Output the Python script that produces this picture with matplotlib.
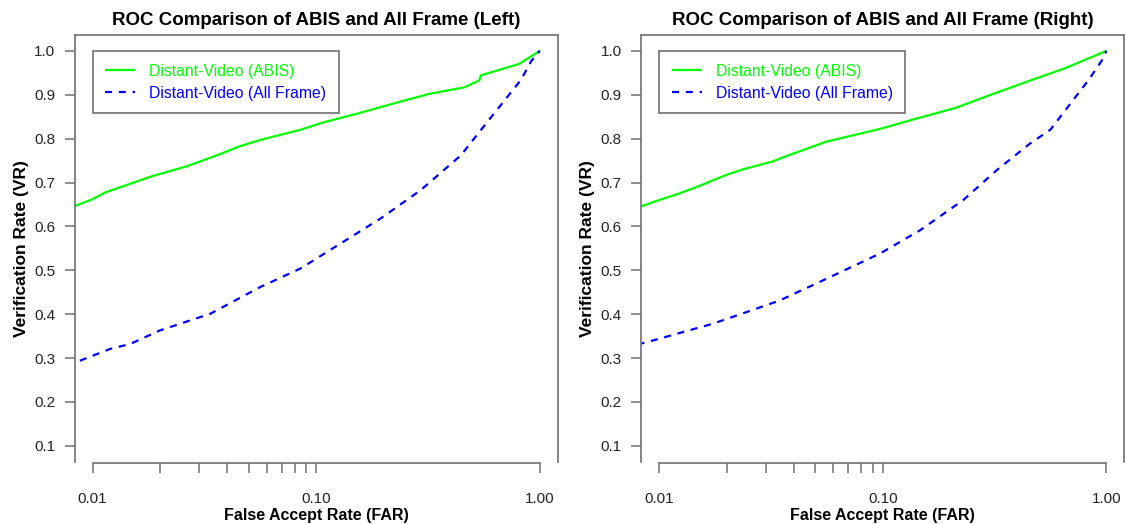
import matplotlib
matplotlib.use("Agg")
import matplotlib.pyplot as plt

plt.rcParams['font.family'] = ['Liberation Sans', 'DejaVu Sans']

# ---- data (FAR, VR) ----
left_abis_far = [0.0080, 0.0100, 0.01135, 0.0147, 0.0181, 0.0264, 0.036, 0.0458, 0.0563, 0.085,
                 0.106, 0.153, 0.222, 0.321, 0.462, 0.537, 0.545, 0.807, 1.0]
left_abis_vr = [0.643, 0.662, 0.677, 0.697, 0.713, 0.737, 0.762, 0.783, 0.797, 0.820,
                0.836, 0.857, 0.880, 0.902, 0.917, 0.933, 0.944, 0.970, 1.0]
left_all_far = [0.00877, 0.0120, 0.0147, 0.020, 0.0336, 0.0563, 0.085, 0.1285, 0.194, 0.294,
                0.444, 0.546, 0.824, 0.914, 1.0]
left_all_vr = [0.294, 0.321, 0.332, 0.363, 0.401, 0.462, 0.504, 0.561, 0.618, 0.683,
               0.762, 0.820, 0.934, 0.976, 1.0]

right_abis_far = [0.0080, 0.0100, 0.0123, 0.0151, 0.0199, 0.0237, 0.0322, 0.037, 0.0559, 0.097,
                  0.140, 0.212, 0.308, 0.449, 0.651, 0.90, 1.0]
right_abis_vr = [0.643, 0.660, 0.675, 0.692, 0.717, 0.730, 0.748, 0.760, 0.793, 0.822,
                 0.845, 0.870, 0.901, 0.931, 0.960, 0.990, 1.0]
right_all_far = [0.0080, 0.0100, 0.0127, 0.0173, 0.0237, 0.0345, 0.0578, 0.097, 0.1466, 0.229,
                 0.323, 0.456, 0.561, 0.834, 0.957, 1.0]
right_all_vr = [0.331, 0.344, 0.359, 0.378, 0.402, 0.431, 0.484, 0.538, 0.591, 0.660,
                0.728, 0.789, 0.820, 0.934, 0.979, 1.0]

titles = ["ROC Comparison of ABIS and All Frame (Left)",
          "ROC Comparison of ABIS and All Frame (Right)"]
series_labels = ["Distant-Video (ABIS)", "Distant-Video (All Frame)"]
x_ticks = [0.01, 0.02, 0.03, 0.04, 0.05, 0.06, 0.07, 0.08, 0.09, 0.10, 1.00]
x_ticklabels = ["0.01", "", "", "", "", "", "", "", "", "0.10", "1.00"]
y_ticks = [0.1, 0.2, 0.3, 0.4, 0.5, 0.6, 0.7, 0.8, 0.9, 1.0]

GREEN = "#00ff00"
BLUE = "#0000ff"
EDGE = "#707070"

fig = plt.figure(figsize=(11.25, 5.24), dpi=100)
W, H = 1125, 524
AX_W, AX_TOP, AX_BOT = 483.0, 35.0, 461.7
panels = [
    (74.7, titles[0], (left_abis_far, left_abis_vr), (left_all_far, left_all_vr)),
    (641.3, titles[1], (right_abis_far, right_abis_vr), (right_all_far, right_all_vr)),
]
for left_px, title, abis, allf in panels:
    ax = fig.add_axes([left_px / W, (H - AX_BOT) / H, AX_W / W, (AX_BOT - AX_TOP) / H])
    ax.plot(abis[0], abis[1], color=GREEN, lw=1.6, solid_capstyle='butt')
    ax.plot(allf[0], allf[1], color=BLUE, lw=1.6, linestyle=(0, (3.2, 3.0)))
    ax.set_xscale('log')
    ax.set_xlim(10 ** -2.08, 10 ** 0.08)
    ax.set_ylim(0.064, 1.036)
    ax.set_xticks(x_ticks)
    ax.set_xticklabels(x_ticklabels)
    ax.xaxis.set_minor_locator(matplotlib.ticker.NullLocator())
    ax.set_yticks(y_ticks)
    ax.set_yticklabels([f"{v:.1f}" for v in y_ticks])
    ax.spines['bottom'].set_bounds(0.01, 1.0)
    ax.spines['bottom'].set_position(('outward', 1))
    for s in ax.spines.values():
        s.set_color(EDGE)
        s.set_linewidth(1.2)
    ax.tick_params(axis='both', direction='out', length=7, width=1.1, color=EDGE,
                   labelsize=11, labelcolor='#222222')
    ax.tick_params(axis='y', pad=7)
    ax.tick_params(axis='x', pad=14)
    ax.set_title(title, fontsize=13.5, fontweight='bold', pad=7)
    ax.set_xlabel("False Accept Rate (FAR)", fontsize=11.5, fontweight='bold', labelpad=1)
    ax.set_ylabel("Verification Rate (VR)", fontsize=12.5, fontweight='bold', labelpad=4)
    leg = ax.legend(series_labels, loc='upper left',
                    bbox_to_anchor=(18.0 / AX_W, (AX_BOT - 51) / (AX_BOT - AX_TOP)),
                    borderaxespad=0, fancybox=False, framealpha=1, edgecolor=EDGE,
                    fontsize=11.3, handlelength=1.9, handletextpad=0.9, borderpad=0.8,
                    labelspacing=0.45, labelcolor='linecolor')
    leg.get_frame().set_linewidth(1.2)

fig.savefig("out.png", dpi=100)
